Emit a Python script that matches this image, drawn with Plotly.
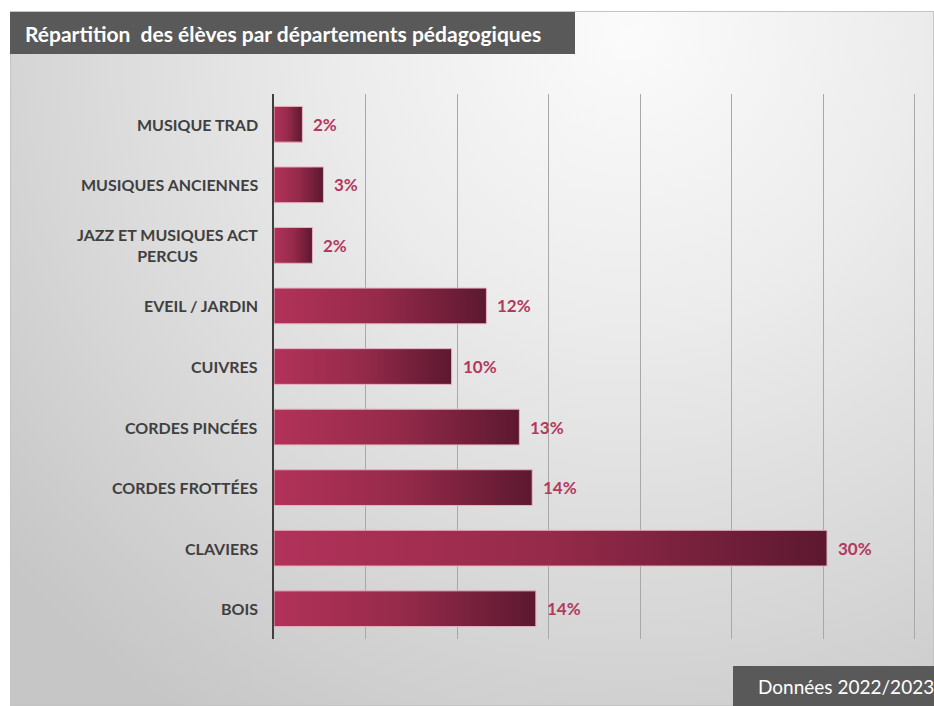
import base64
import plotly.graph_objects as go

# ---- data (Excel order: first category at the bottom) ----
categories = [
    "BOIS",
    "CLAVIERS",
    "CORDES FROTTÉES",
    "CORDES PINCÉES",
    "CUIVRES",
    "EVEIL / JARDIN",
    "JAZZ ET MUSIQUES ACT<br>PERCUS",
    "MUSIQUES ANCIENNES",
    "MUSIQUE TRAD",
]
values = [14.3, 30.2, 14.1, 13.4, 9.7, 11.6, 2.1, 2.7, 1.55]
x_ticks = [0, 5, 10, 15, 20, 25, 30, 35]
title_text = "Répartition\u00a0 des élèves par départements pédagogiques"
source_text = "Données 2022/2023"

# ---- geometry / style ----
W, H = 934, 706
ML, MR, MT, MB = 274, 18, 94, 67
PW, PH = W - ML - MR, H - MT - MB
FONT = "Lato"
HALF = 0.295


def px(x):
    return (x - ML) / PW


def py(y):
    return (H - MB - y) / PH


svg = (
    "<svg xmlns='http://www.w3.org/2000/svg' width='924' height='695' viewBox='0 0 924 695' "
    "preserveAspectRatio='none'><defs><radialGradient id='g' gradientUnits='userSpaceOnUse' "
    "cx='620' cy='20' r='820'>"
    "<stop offset='0' stop-color='#fbfbfb'/>"
    "<stop offset='0.35' stop-color='#ececec'/>"
    "<stop offset='0.75' stop-color='#d5d5d5'/>"
    "<stop offset='1' stop-color='#c6c6c6'/>"
    "</radialGradient></defs>"
    "<rect x='0.5' y='0.5' width='923' height='694' fill='url(#g)' stroke='#c4c4c4' stroke-width='1'/>"
    "</svg>"
)
bg_src = "data:image/svg+xml;base64," + base64.b64encode(svg.encode()).decode()

fig = go.Figure()

for i, v in enumerate(values):
    fig.add_trace(
        go.Scatter(
            x=[0, v, v, 0, 0],
            y=[i - HALF, i - HALF, i + HALF, i + HALF, i - HALF],
            mode="lines",
            fill="toself",
            fillgradient=dict(
                type="horizontal",
                colorscale=[[0, "#b2325a"], [0.5, "#952a4a"], [1, "#5c1830"]],
            ),
            line=dict(color="#e6b0bf", width=1),
            hoverinfo="skip",
            showlegend=False,
        )
    )

annotations = []
for i, (c, v) in enumerate(zip(categories, values)):
    annotations.append(
        dict(
            x=0, y=i, xref="x", yref="y", text=c, showarrow=False,
            xanchor="right", yanchor="middle", align="center", xshift=-14,
            font=dict(family=FONT, size=16, color="#404040", weight="bold"),
        )
    )
    annotations.append(
        dict(
            x=v, y=i, xref="x", yref="y", text=f"{round(v)}%", showarrow=False,
            xanchor="left", yanchor="middle", xshift=9,
            font=dict(family=FONT, size=17, color="#b3385e", weight="bold"),
        )
    )

annotations.append(
    dict(
        x=px(23), y=py(33), xref="paper", yref="paper", text=title_text,
        showarrow=False, xanchor="left", yanchor="middle",
        font=dict(family=FONT, size=21, color="#ffffff", weight="bold"),
    )
)
annotations.append(
    dict(
        x=px(756), y=py(686), xref="paper", yref="paper", text=source_text,
        showarrow=False, xanchor="left", yanchor="middle",
        font=dict(family=FONT, size=19, color="#ffffff"),
    )
)

shapes = [
    dict(type="rect", xref="paper", yref="paper", x0=px(10), x1=px(575), y0=py(54), y1=py(12),
         fillcolor="#595959", line=dict(width=0), layer="above"),
    dict(type="rect", xref="paper", yref="paper", x0=px(733), x1=px(934), y0=py(706), y1=py(666),
         fillcolor="#595959", line=dict(width=0), layer="above"),
]

fig.update_layout(
    width=W, height=H,
    margin=dict(l=ML, r=MR, t=MT, b=MB, pad=0),
    paper_bgcolor="#ffffff",
    plot_bgcolor="rgba(0,0,0,0)",
    showlegend=False,
    images=[dict(source=bg_src, xref="paper", yref="paper", x=px(10), y=py(11),
                 sizex=924 / PW, sizey=695 / PH, sizing="stretch", xanchor="left",
                 yanchor="top", layer="below")],
    shapes=shapes,
    annotations=annotations,
    xaxis=dict(range=[0, 35.06], tickvals=x_ticks, showticklabels=False, showgrid=True,
               gridcolor="#a8a8a8", gridwidth=1, zeroline=False, showline=False, fixedrange=True),
    yaxis=dict(range=[-0.5, 8.5], showticklabels=False, showgrid=False, zeroline=False,
               showline=True, linecolor="#404040", linewidth=2, fixedrange=True),
)

fig.write_html(
    "out.html",
    config={"displayModeBar": False},
    post_script="document.body.style.margin='0';document.body.style.overflow='hidden';",
)
